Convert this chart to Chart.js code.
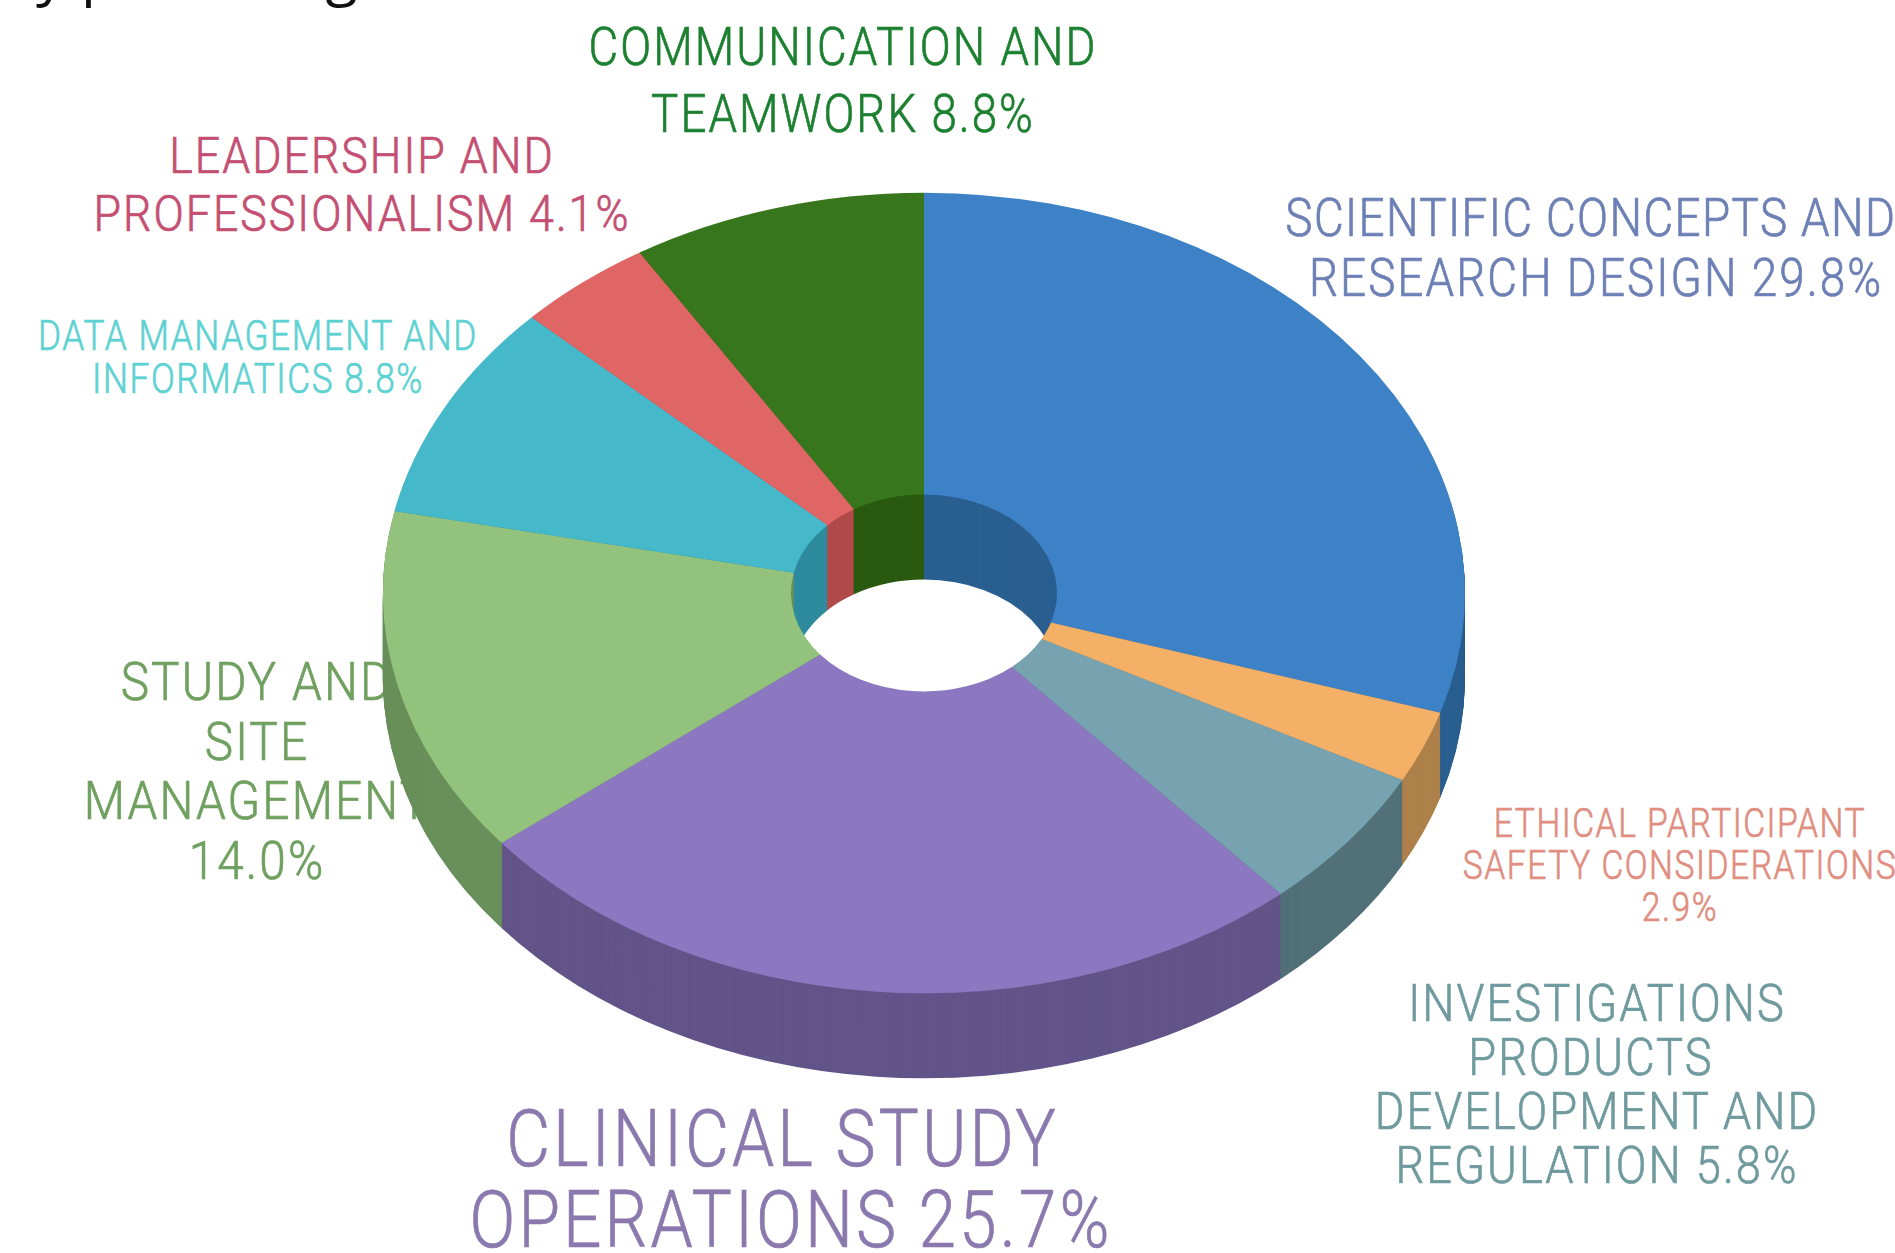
<!DOCTYPE html>
<html>
<head>
<meta charset="utf-8">
<title>Competency domains</title>
<script src="https://cdn.jsdelivr.net/npm/chart.js@4"></script>
<style>
html, body { margin: 0; background: #fff; }
#page { position: relative; width: 1895px; height: 1253px; overflow: hidden; }
#pie { position: absolute; left: 0; top: 0; z-index: 2; }
.label {
    position: absolute; z-index: 1; white-space: pre; text-align: center;
    font-family: Roboto, sans-serif; font-weight: 300; letter-spacing: 0.045em;
    -webkit-text-stroke: 0.7px var(--color);
    left: var(--cx); top: var(--top); font-size: var(--size); line-height: var(--lh);
    color: var(--color);
    transform: translateX(-50%) scaleX(var(--sx, 1));
}
.label span { display: block; }
.scientific { --cx: 1596px; --top: 188px; --size: 53px; --lh: 60px; --fit: 611; --color: #6d80b6; }
.scientific span:first-child { position: relative; left: -6px; letter-spacing: 0.03em; }
.ethical { --cx: 1680px; --top: 802px; --size: 41px; --lh: 42px; --fit: 434; --color: #e08e80; }
.investigations { --cx: 1597px; --top: 977px; --size: 52px; --lh: 54px; --fit: 444; --color: #6f9a9e; }
.investigations span:nth-child(2) { position: relative; left: -7px; }
.clinical { --cx: 791px; --top: 1099px; --size: 80px; --lh: 81px; --fit: 643; --color: #8a79ae; }
.clinical span:first-child { position: relative; left: -10px; }
.study { --cx: 257px; --top: 652px; --size: 54px; --lh: 59.5px; --fit: 347; --color: #6fa05f; }
.data { --cx: 258px; --top: 314px; --size: 42px; --lh: 43px; --fit: 440; --color: #5ed2d2; }
.leadership { --cx: 362px; --top: 127px; --size: 50px; --lh: 58px; --fit: 537; --color: #c44f72; }
.communication { --cx: 843px; --top: 13px; --size: 53.5px; --lh: 67px; --fit: 509; --color: #1c8030; }
.cutoff { position: absolute; left: 36px; top: -69px; font: 59px/80px "Open Sans", sans-serif; color: #111; white-space: pre; }
</style>
</head>
<body>
<div id="page">
    <div class="cutoff">y percentage</div>
    <canvas id="pie" width="1895" height="1253"></canvas>
</div>
<script>
const categories = [
    'Scientific concepts and research design',
    'Ethical participant safety considerations',
    'Investigations products development and regulation',
    'Clinical study operations',
    'Study and site management',
    'Data management and informatics',
    'Leadership and professionalism',
    'Communication and teamwork'
];
const shares = [29.8, 2.9, 5.8, 25.7, 14.0, 8.8, 4.1, 8.8];
const topColors = ['#3d82c6', '#f4b066', '#77a3b0', '#8b78c0', '#93c27c', '#45b9c9', '#e06666', '#38761d'];
const wallColors = ['#2a5f90', '#ae804a', '#517078', '#625489', '#698f5a', '#2e8b9e', '#b04a4a', '#2a5a0f'];
const labelLines = [
    ['SCIENTIFIC CONCEPTS AND', 'RESEARCH DESIGN 29.8%'],
    ['ETHICAL PARTICIPANT', 'SAFETY CONSIDERATIONS', '2.9%'],
    ['INVESTIGATIONS', 'PRODUCTS', 'DEVELOPMENT AND', 'REGULATION 5.8%'],
    ['CLINICAL STUDY', 'OPERATIONS 25.7%'],
    ['STUDY AND', 'SITE', 'MANAGEMENT', '14.0%'],
    ['DATA MANAGEMENT AND', 'INFORMATICS 8.8%'],
    ['LEADERSHIP AND', 'PROFESSIONALISM 4.1%'],
    ['COMMUNICATION AND', 'TEAMWORK 8.8%']
];
const labelClasses = ['scientific', 'ethical', 'investigations', 'clinical', 'study', 'data', 'leadership', 'communication'];

const TILT = 0.74;   // squash of the circle into the ellipse
const DEPTH = 85;    // height of the side wall, px on screen

function addLabels() {
    const page = document.getElementById('page');
    labelLines.forEach((lines, i) => {
        const div = document.createElement('div');
        div.className = 'label ' + labelClasses[i];
        div.innerHTML = lines.map(line => `<span>${line}</span>`).join('');
        page.appendChild(div);
        // narrow the font down to the width of the widest line
        const fit = parseFloat(getComputedStyle(div).getPropertyValue('--fit'));
        div.style.setProperty('--sx', fit / div.offsetWidth);
    });
}

// tilts the doughnut and stacks darker copies of the arcs under it
const tiltPlugin = {
    id: 'tilt',
    beforeDatasetsDraw(chart) {
        const ctx = chart.ctx;
        const arcs = chart.getDatasetMeta(0).data;
        const cy = arcs[0].y;
        ctx.save();
        ctx.translate(0, cy);
        ctx.scale(1, TILT);
        ctx.translate(0, -cy);
        for (let d = DEPTH; d >= 1; d--) {
            ctx.save();
            ctx.translate(0, d / TILT);
            arcs.forEach((arc, i) => {
                const original = arc.options;
                arc.options = Object.create(original);
                arc.options.backgroundColor = wallColors[i];
                arc.draw(ctx);
                arc.options = original;
            });
            ctx.restore();
        }
    },
    afterDatasetsDraw(chart) {
        chart.ctx.restore();
    }
};

function drawChart() {
    const ctx = document.getElementById('pie').getContext('2d');
    new Chart(ctx, {
        type: 'doughnut',
        data: {
            labels: categories,
            datasets: [{
                data: shares,
                backgroundColor: topColors,
                borderWidth: 0,
                clip: false
            }]
        },
        options: {
            responsive: false,
            animation: false,
            radius: 541,
            cutout: 133,
            layout: { padding: { left: 383, right: 430, top: 52, bottom: 119 } },
            plugins: {
                legend: { display: false },
                tooltip: { enabled: false }
            }
        },
        plugins: [tiltPlugin]
    });
}

addLabels();
drawChart();
</script>
</body>
</html>
